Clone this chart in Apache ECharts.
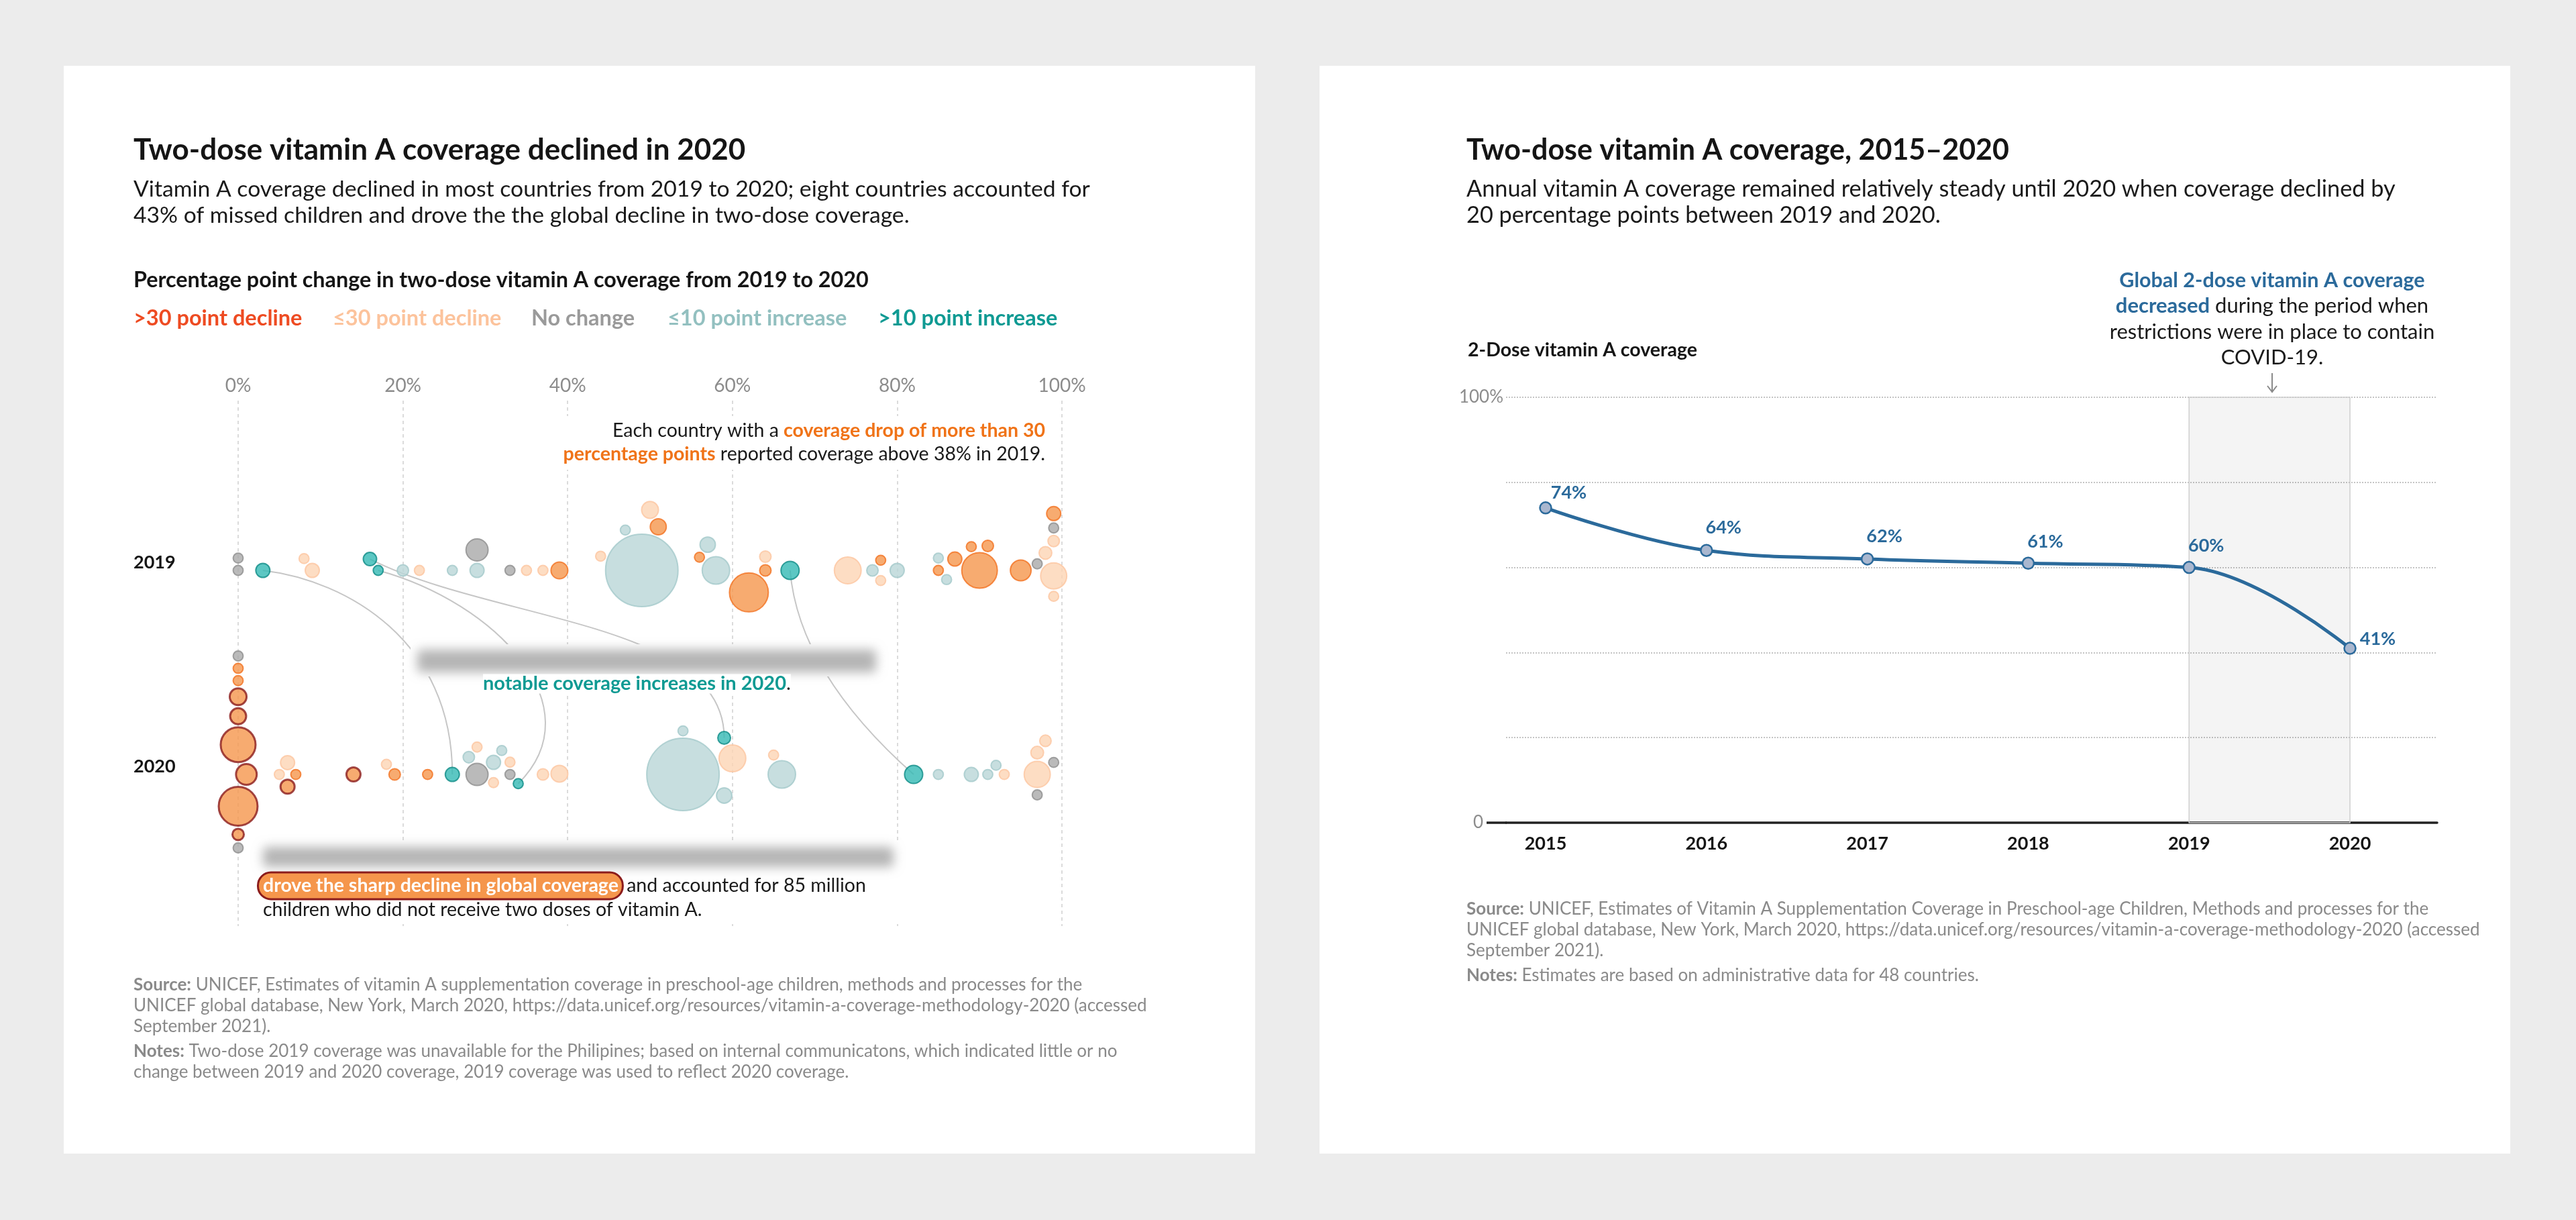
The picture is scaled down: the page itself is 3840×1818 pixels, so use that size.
<!DOCTYPE html>
<html><head><meta charset="utf-8">
<script src="https://cdn.jsdelivr.net/npm/echarts@6/dist/echarts.min.js"></script>
<style>html,body{margin:0;padding:0;background:#ececec}#c{width:3840px;height:1818px}</style>
</head><body><div id="c"></div>
<script>
// ---------------- DATA ----------------
const categories = ['>30 point decline', '≤30 point decline', 'No change', '≤10 point increase', '>10 point increase'];
const rowLabels = ['2019', '2020'];
const pctTicks = [0, 20, 40, 60, 80, 100];

// 2019 two-dose coverage (%) per country, relative size (children, index), change category (index into categories)
const cov2019 = [0,0,3,9,8,17,16,20,22,26, 29,29,33,35,37,39,49,44,47,51, 50,58,56,57,64,64,62,67,74,77, 78,78,80,90,87,85,85,86,89,91, 95,97,99,98,99,99,99,99];
const size2019 = [1.9,1.9,3.8,3.8,1.9,1.9,3.4,2.5,1.9,1.9, 3.8,9.3,1.9,1.9,1.9,5.4,100,1.9,1.9,4.9, 5.4,14.4,1.9,4.5,2.5,2.5,28.8,6.3,13.7,2.5, 1.9,1.9,3.8,24.1,3.8,1.9,1.9,1.9,1.9,2.5, 8.2,1.9,13,3.1,2.5,1.9,1.9,3.8];
const cat2019 = [2,2,4,1,1,4,4,3,1,3, 3,2,2,1,1,0,3,1,3,0, 1,3,0,3,0,1,0,4,1,3, 0,1,3,0,0,0,3,3,0,0, 0,2,1,1,1,1,2,0];

// 2020 coverage
const cov2020 = [1,0,0,0,0,0,0,0,0,0, 5,7,6,6,14,19,18,23,26,29, 28,29,31,31,32,33,33,34,37,39, 54,60,59,59,54,66,65,82,85,89, 91,92,93,97,99,97,97,98];
const size2020 = [8.2,23.2,28.8,4.9,5.4,2.5,1.9,1.9,1.9,1.9, 1.9,1.9,3.8,3.8,3.8,2.5,1.9,1.9,3.8,9.3, 2.5,1.9,3.8,1.9,1.9,1.9,1.9,1.9,2.5,5.4, 100,13.7,4.5,3.1,1.9,14.4,1.9,6.3,1.9,3.8, 1.9,1.9,1.9,13,1.9,3.1,1.9,2.5];
const cat2020 = [0,0,0,0,0,0,0,0,2,2, 1,0,1,0,0,0,1,0,4,2, 3,1,3,1,3,2,1,4,1,1, 3,1,3,4,3,3,1,4,3,3, 3,3,1,1,2,1,2,1];
// the eight countries that drove the decline
const key2020 = [1,1,1,1,1,1,0,0,0,0, 0,0,0,1,1,0,0,0,0,0, 0,0,0,0,0,0,0,0,0,0, 0,0,0,0,0,0,0,0,0,0, 0,0,0,0,0,0,0,0];
// notable increases: [index in 2019 row, index in 2020 row]
const links = [[2,18],[6,33],[5,27],[27,37]];

// Global two-dose coverage
const years = [2015, 2016, 2017, 2018, 2019, 2020];
const coverage = [74, 64, 62, 61, 60, 41];

// ---------------- STYLE ----------------
const F = 'Lato, "Noto Sans", sans-serif';
const catFill   = ['#f5964c', '#fdd4b4', '#a9a9a9', '#b9d6d7', '#33b9b4'];
const catBorder = ['#f27221', '#fcc6a0', '#8e8e8e', '#a4c9ca', '#0e8b86'];
const catText   = ['#ee4b22', '#fcc39c', '#9a9a9a', '#93c0c0', '#0f9a93'];
const keyBorder = '#8b1c1c';
const blue = '#2b6a9b';
const sizeOf = v => 10.8 * Math.sqrt(v);

const chart = echarts.init(document.getElementById('c'), null, {width: 3840, height: 1818});

function txt(x, y, text, size, weight, color, align, rich, extra) {
  const s = {text: text, x: 0, y: 0, fontFamily: F, fontSize: size, fontWeight: weight, fill: color,
    align: align || 'left', textAlign: align || 'left', verticalAlign: 'middle', textVerticalAlign: 'middle'};
  if (rich) s.rich = rich;
  return Object.assign({type: 'text', x: x, y: y, z: 30, style: s}, extra || {});
}
function rect(x, y, w, h, fill, z, extra) {
  return Object.assign({type: 'rect', z: z, shape: {x: x, y: y, width: w, height: h}, style: {fill: fill}}, extra || {});
}
function blurBar(x, y, w, h) {
  return {type: 'rect', z: 25, shape: {x: x - 10000, y: y, width: w, height: h, r: 6},
    style: {fill: '#000', shadowBlur: 16, shadowColor: 'rgba(120,120,120,0.55)', shadowOffsetX: 10000, shadowOffsetY: 0}};
}

const richN = (size, color) => ({fontFamily: F, fontSize: size, fontWeight: 'normal', fill: color, color: color});
const richB = (size, color) => ({fontFamily: F, fontSize: size, fontWeight: 'bold', fill: color, color: color});

const legendX = [199, 496, 792, 995, 1309];
const SUB = 33.7, ANN = 28.5, SRC = 26;

const graphics = [
  rect(95, 98, 1776, 1621, '#ffffff', -5),
  rect(1967, 98, 1775, 1621, '#ffffff', -5),
  // left texts
  txt(199, 224, 'Two-dose vitamin A coverage declined in 2020', 44, 'bold', '#151515'),
  txt(199, 282, 'Vitamin A coverage declined in most countries from 2019 to 2020; eight countries accounted for', SUB, 'normal', '#1a1a1a'),
  txt(199, 321, '43% of missed children and drove the the global decline in two-dose coverage.', SUB, 'normal', '#1a1a1a'),
  txt(199, 418, 'Percentage point change in two-dose vitamin A coverage from 2019 to 2020', 32.3, 'bold', '#151515'),
  // annotation top right
  rect(820, 620, 745, 80, '#ffffff', 20),
  txt(1558, 642, '{n|Each country with a }{o|coverage drop of more than 30}', ANN, 'normal', '#1a1a1a', 'right',
      {n: richN(ANN, '#1a1a1a'), o: richB(ANN, '#f07318')}),
  txt(1558, 677, '{o|percentage points}{n| reported coverage above 38% in 2019.}', ANN, 'normal', '#1a1a1a', 'right',
      {n: richN(ANN, '#1a1a1a'), o: richB(ANN, '#f07318')}),
  // middle annotation
  rect(612, 960, 700, 48, '#ffffff', 20),
  blurBar(622, 968, 684, 34),
  txt(720, 1019, '{t|notable coverage increases in 2020}{n|.}', 29, 'bold', '#0f9a93', 'left',
      {t: Object.assign(richB(29, '#0f9a93'), {backgroundColor: '#ffffff'}), n: Object.assign(richN(29, '#1a1a1a'), {backgroundColor: '#ffffff'})}),
  // bottom annotation
  rect(384, 1252, 958, 120, '#ffffff', 20),
  blurBar(392, 1262, 940, 30),
  txt(386, 1320, '{p|drove the sharp decline in global coverage}{n| and accounted for 85 million}', ANN, 'normal', '#1a1a1a', 'left',
      {p: Object.assign(richB(ANN, '#ffffff'), {backgroundColor: '#f5964c', borderColor: keyBorder, borderWidth: 3, borderRadius: 18, padding: [4, 5, 4, 6]}),
       n: richN(ANN, '#1a1a1a')}),
  txt(392, 1356, 'children who did not receive two doses of vitamin A.', ANN, 'normal', '#1a1a1a'),
  // left source
  txt(199, 1468, '{b|Source:}{n| UNICEF, Estimates of vitamin A supplementation coverage in preschool-age children, methods and processes for the}', SRC, 'normal', '#8a8a8a', 'left', {b: richB(SRC, '#8a8a8a'), n: richN(SRC, '#8a8a8a')}),
  txt(199, 1499, 'UNICEF global database, New York, March 2020, https://data.unicef.org/resources/vitamin-a-coverage-methodology-2020 (accessed', SRC, 'normal', '#8a8a8a'),
  txt(199, 1530, 'September 2021).', SRC, 'normal', '#8a8a8a'),
  txt(199, 1567, '{b|Notes:}{n| Two-dose 2019 coverage was unavailable for the Philipines; based on internal communicatons, which indicated little or no}', SRC, 'normal', '#8a8a8a', 'left', {b: richB(SRC, '#8a8a8a'), n: richN(SRC, '#8a8a8a')}),
  txt(199, 1598, 'change between 2019 and 2020 coverage, 2019 coverage was used to reflect 2020 coverage.', SRC, 'normal', '#8a8a8a'),
  // right texts
  txt(2186, 224, 'Two-dose vitamin A coverage, 2015\u20132020', 43, 'bold', '#151515'),
  txt(2186, 282, 'Annual vitamin A coverage remained relatively steady until 2020 when coverage declined by', 34.3, 'normal', '#1a1a1a'),
  txt(2186, 321, '20 percentage points between 2019 and 2020.', 34.3, 'normal', '#1a1a1a'),
  txt(3387, 418, 'Global 2-dose vitamin A coverage', 30.5, 'bold', blue, 'center'),
  txt(3387, 456, '{b|decreased}{n| during the period when}', 31, 'normal', '#1a1a1a', 'center', {b: richB(31, blue), n: richN(31, '#1a1a1a')}),
  txt(3387, 495, 'restrictions were in place to contain', 31, 'normal', '#1a1a1a', 'center'),
  txt(3387, 533, 'COVID-19.', 31, 'normal', '#1a1a1a', 'center'),
  {type: 'line', z: 30, shape: {x1: 3387, y1: 556, x2: 3387, y2: 584}, style: {stroke: '#8a8a8a', lineWidth: 2}},
  {type: 'polyline', z: 30, shape: {points: [[3380, 575], [3387, 584], [3394, 575]]}, style: {stroke: '#8a8a8a', lineWidth: 2, fill: null}},
  txt(2188, 522, '2-Dose vitamin A coverage', 28.5, 'bold', '#151515'),
  {type: 'line', z: 4, shape: {x1: 2216, y1: 1226, x2: 2246, y2: 1226}, style: {stroke: '#222', lineWidth: 3.5}},
  txt(2186, 1355, '{b|Source:}{n| UNICEF, Estimates of Vitamin A Supplementation Coverage in Preschool-age Children, Methods and processes for the}', SRC, 'normal', '#8a8a8a', 'left', {b: richB(SRC, '#8a8a8a'), n: richN(SRC, '#8a8a8a')}),
  txt(2186, 1386, 'UNICEF global database, New York, March 2020, https://data.unicef.org/resources/vitamin-a-coverage-methodology-2020 (accessed', SRC, 'normal', '#8a8a8a'),
  txt(2186, 1417, 'September 2021).', SRC, 'normal', '#8a8a8a'),
  txt(2186, 1454, '{b|Notes:}{n| Estimates are based on administrative data for 48 countries.}', SRC, 'normal', '#8a8a8a', 'left', {b: richB(SRC, '#8a8a8a'), n: richN(SRC, '#8a8a8a')})
];
categories.forEach((c, i) => graphics.push(txt(legendX[i], 475, c, 32.5, 'bold', catText[i])));

// per-point label offsets for the line (styling)
const labelPos = [[17.5, -12.5], [8.5, -24.5], [8.5, -23.5], [8.5, -22.5], [8.5, -22.5], [24.5, -4.5]];

const lineSeries = {
  type: 'line', xAxisIndex: 1, yAxisIndex: 1, z: 5,
  data: years.map((y, i) => ({value: [y, coverage[i]],
    label: {show: true, position: labelPos[i], align: 'left', verticalAlign: 'middle', formatter: coverage[i] + '%',
            fontFamily: F, fontSize: 27, fontWeight: 'bold', color: blue}})),
  smooth: 0.4, symbol: 'circle', symbolSize: 17,
  lineStyle: {color: blue, width: 5},
  itemStyle: {color: '#a9b7cf', borderColor: blue, borderWidth: 2.5},
  markArea: {silent: true, itemStyle: {color: 'rgba(0,0,0,0.045)', borderColor: '#cfcfcf', borderWidth: 1.5},
             data: [[{xAxis: 2019}, {xAxis: 2020}]]}
};

const base = {
  backgroundColor: '#ececec',
  animation: false,
  textStyle: {fontFamily: F},
  graphic: {elements: graphics},
  grid: [
    {left: 355, right: 3840 - 1583, top: 597, bottom: 1818 - 1380},
    {left: 2245, right: 207, top: 592, bottom: 592}
  ],
  xAxis: [
    {gridIndex: 0, type: 'value', position: 'top', min: 0, max: 100, interval: 20,
     axisLine: {show: false}, axisTick: {show: false},
     axisLabel: {customValues: pctTicks, formatter: '{value}%', color: '#8c8c8c', fontSize: 28, fontFamily: F, margin: 8},
     splitLine: {show: true, lineStyle: {color: '#cfcfcf', type: [5, 5], width: 1.5}}},
    {gridIndex: 1, type: 'value', min: 2014.754, max: 2020.542,
     axisLine: {show: true, lineStyle: {color: '#222', width: 3.5}}, axisTick: {show: false},
     splitLine: {show: false},
     axisLabel: {customValues: years, formatter: v => String(v), color: '#151515', fontSize: 27, fontWeight: 'bold', fontFamily: F, margin: 18}}
  ],
  yAxis: [
    {gridIndex: 0, type: 'value', min: 0.257, max: 2.832,
     axisLine: {show: false}, axisTick: {show: false}, splitLine: {show: false},
     axisLabel: {customValues: [1, 2], formatter: v => '{r|' + (v === 2 ? rowLabels[0] : rowLabels[1]) + '}', align: 'left', margin: 156,
                 rich: {r: {color: '#151515', fontSize: 27, fontWeight: 'bold', fontFamily: F, padding: [0, 0, 24, 0]}}}},
    {gridIndex: 1, type: 'value', min: 0, max: 100, interval: 20,
     axisLine: {show: false}, axisTick: {show: false},
     splitLine: {show: true, lineStyle: {color: '#c4c4c4', type: 'dotted', width: 2}},
     axisLabel: {formatter: v => (v === 100 ? '100%' : (v === 0 ? '{z|0}' : '')), color: '#8c8c8c', fontSize: 26, fontFamily: F, margin: 4,
                 rich: {z: {color: '#8c8c8c', fontSize: 26, fontFamily: F, padding: [0, 30, 0, 0]}}}}
  ],
  series: [lineSeries]
};
chart.setOption(base);

// ------------- beeswarm layout (computed from the axis scale) -------------
const p1 = chart.convertToPixel({gridIndex: 0}, [0, 1]);
const p2 = chart.convertToPixel({gridIndex: 0}, [0, 2]);
const ppu = p1[1] - p2[1];

function swarm(cov, sizes, borderW) {
  const xs = cov.map(c => chart.convertToPixel({gridIndex: 0}, [c, 1])[0]);
  const rs = sizes.map((v, i) => sizeOf(v) / 2 + borderW[i] / 2);
  const pad = 1.5, bias = 1.5;
  const ys = [];
  for (let i = 0; i < xs.length; i++) {
    const cands = [0];
    for (let j = 0; j < i; j++) {
      const dx = xs[i] - xs[j], R = rs[i] + rs[j] + pad;
      if (Math.abs(dx) < R) { const h = Math.sqrt(R * R - dx * dx); cands.push(ys[j] + h, ys[j] - h); }
    }
    let best = 0, bestCost = Infinity;
    for (const c of cands) {
      let ok = true;
      for (let j = 0; j < i; j++) {
        const dx = xs[i] - xs[j], dy = c - ys[j], R = rs[i] + rs[j] + pad;
        if (dx * dx + dy * dy < R * R - 0.01) { ok = false; break; }
      }
      if (!ok) continue;
      const cost = c <= 0 ? -c : c * bias;
      if (cost < bestCost) { bestCost = cost; best = c; }
    }
    ys.push(best);
  }
  return ys;
}

const bw2019 = cov2019.map(() => 2);
const bw2020 = key2020.map(k => (k ? 3 : 2));
const dy2019 = swarm(cov2019, size2019, bw2019);
const dy2020 = swarm(cov2020, size2020, bw2020);
const y2019 = dy2019.map(d => 2 - d / ppu);
const y2020 = dy2020.map(d => 1 - d / ppu);

function bubbles(cov, ys, sizes, cats, keys) {
  return cov.map((c, i) => ({
    value: [c, ys[i]],
    symbolSize: sizeOf(sizes[i]),
    itemStyle: {color: catFill[cats[i]], borderColor: keys && keys[i] ? keyBorder : catBorder[cats[i]], borderWidth: keys && keys[i] ? 3 : 2}
  }));
}

// connector shapes (styling of annotation curves)
const linkCurve = [[0.45, 0.05, 0, 0.35], [0.35, 0.35, 0, 0.35], [0.84, 0.15, 0.55, 0.64], [0.047, 0.333, -0.62, 0.667]];

const connectors = {
  type: 'custom', xAxisIndex: 0, yAxisIndex: 0, z: 1, silent: true,
  data: links.map(l => [cov2019[l[0]], y2019[l[0]], cov2020[l[1]], y2020[l[1]]]),
  renderItem: function (params, api) {
    const a = api.coord([api.value(0), api.value(1)]);
    const b = api.coord([api.value(2), api.value(3)]);
    const k = linkCurve[params.dataIndex];
    const dx = b[0] - a[0], dy = b[1] - a[1];
    return {type: 'bezierCurve', shape: {x1: a[0], y1: a[1], x2: b[0], y2: b[1],
      cpx1: a[0] + k[0] * dx, cpy1: a[1] + k[1] * dy, cpx2: b[0] + k[2] * dx, cpy2: a[1] + k[3] * dy},
      style: {stroke: '#c6c6c6', lineWidth: 2, fill: null}};
  }
};

chart.setOption({
  series: [
    lineSeries,
    connectors,
    {type: 'scatter', xAxisIndex: 0, yAxisIndex: 0, z: 10, symbol: 'circle', data: bubbles(cov2019, y2019, size2019, cat2019)},
    {type: 'scatter', xAxisIndex: 0, yAxisIndex: 0, z: 10, symbol: 'circle', data: bubbles(cov2020, y2020, size2020, cat2020, key2020)}
  ]
});
</script>
</body></html>
